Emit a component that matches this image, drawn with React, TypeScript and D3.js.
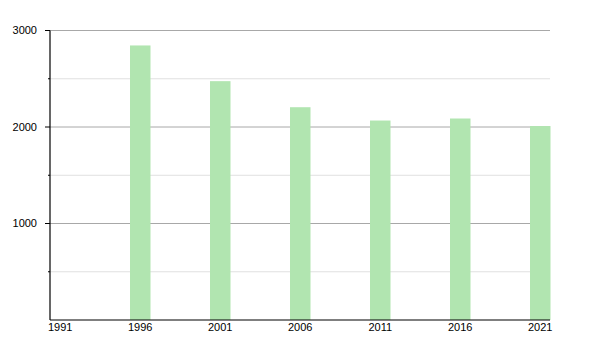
import React from "react";
import * as d3 from "d3";

const years = ["1991", "1996", "2001", "2006", "2011", "2016", "2021"];
const population = [0, 2845, 2475, 2205, 2067, 2088, 2010];
const majorTicks = [1000, 2000, 3000];
const minorTicks = [500, 1500, 2500];

export default function App() {
  const width = 600;
  const height = 350;
  const left = 50;
  const right = 550;
  const top = 30.5;
  const bottom = 320;

  const x = d3.scaleBand<string>().domain(years).range([left, left + 80 * years.length]).padding(0);
  const y = d3.scaleLinear().domain([0, 3000]).range([bottom, top]);
  const barW = x.bandwidth() / 4 + 0.5;

  return (
    <svg width={width} height={height} style={{ position: "absolute", left: 0, top: 0 }}>
      <rect x={0} y={0} width={width} height={height} fill="#fff" />
      {minorTicks.map((t) => (
        <g key={"m" + t}>
          <line x1={left} x2={right} y1={y(t)} y2={y(t)} stroke="#e0e0e0" strokeWidth={1} />
          <line x1={left - 2} x2={left} y1={y(t)} y2={y(t)} stroke="#000" strokeWidth={1} />
        </g>
      ))}
      {majorTicks.map((t) => (
        <g key={"M" + t}>
          <line x1={left} x2={right} y1={y(t)} y2={y(t)} stroke="#a8a8a8" strokeWidth={1} />
          <line x1={left - 5} x2={left} y1={y(t)} y2={y(t)} stroke="#000" strokeWidth={1} />
          <text
            x={37}
            y={y(t)}
            dy="0.35em"
            textAnchor="end"
            fontFamily="Liberation Sans, Arial, sans-serif"
            fontSize={11}
            fill="#000"
          >
            {t}
          </text>
        </g>
      ))}
      {years.map((yr, i) =>
        population[i] > 0 ? (
          <rect
            key={yr}
            x={x(yr)!}
            y={y(population[i])}
            width={barW}
            height={bottom - y(population[i])}
            fill="#b1e5b0"
          />
        ) : null
      )}
      {years.map((yr) => (
        <text
          key={"l" + yr}
          x={x(yr)! + barW / 2}
          y={331}
          textAnchor="middle"
          fontFamily="Liberation Sans, Arial, sans-serif"
          fontSize={11}
          fill="#000"
        >
          {yr}
        </text>
      ))}
      <line x1={left} x2={left} y1={top} y2={bottom} stroke="#000" strokeWidth={1.2} />
      <line x1={left} x2={right} y1={bottom} y2={bottom} stroke="#000" strokeWidth={1.2} />
    </svg>
  );
}
